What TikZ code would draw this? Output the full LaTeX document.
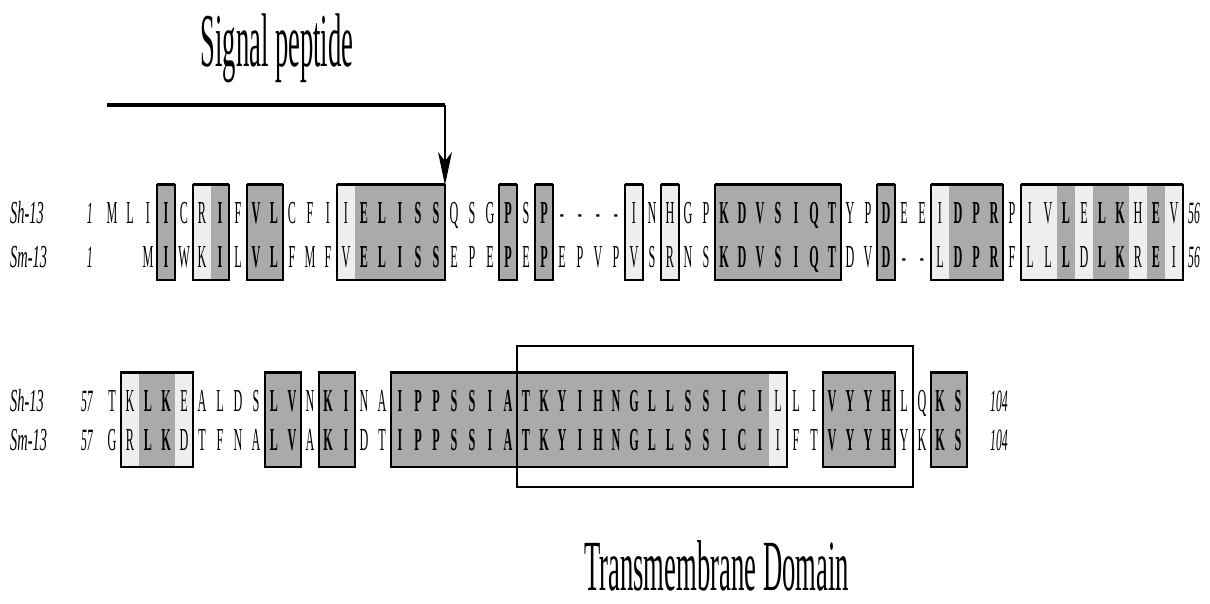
\documentclass[tikz,border=0pt]{standalone}
\usepackage{fontspec}
\setmainfont{Liberation Serif}
\newfontfamily\seqfont[FakeStretch=0.38]{Liberation Serif}
\newfontfamily\labfont[FakeStretch=0.45]{Liberation Serif}
\newfontfamily\titfont[FakeStretch=0.35]{Liberation Serif}
\newfontfamily\tmfont[FakeStretch=0.37]{Liberation Serif}
\usetikzlibrary{arrows.meta}
\definecolor{dk}{RGB}{170,170,170}
\definecolor{lt}{RGB}{238,238,238}
\tikzset{
  res-n/.style={anchor=base, inner sep=0pt, font=\seqfont\fontsize{32}{32}\selectfont},
  res-l/.style={res-n},
  res-d/.style={anchor=base, inner sep=0pt, font=\seqfont\bfseries\fontsize{32}{32}\selectfont},
  fill-n/.style={fill=none},
  fill-l/.style={fill=lt},
  fill-d/.style={fill=dk},
  lab/.style={anchor=base west, inner sep=0pt, font=\labfont\itshape\fontsize{32}{32}\selectfont},
  num/.style={inner sep=0pt, font=\seqfont\itshape\fontsize{31}{31}\selectfont},
  title/.style={anchor=base, inner sep=0pt, font=\titfont\fontsize{76}{76}\selectfont},
  tmtitle/.style={anchor=base west, inner sep=0pt, font=\tmfont\fontsize{72}{72}\selectfont},
  boxside/.style={draw=black, line width=1.2pt},
  boxedge/.style={draw=black, line width=3pt},
  tmbox/.style={draw=black, line width=2pt}
}
\begin{document}
\begin{tikzpicture}[x=1pt,y=-1pt]
\useasboundingbox (0,0) rectangle (1210,604);
% ---------- block 1 ----------
\def\tA{185}\def\bA{280}\def\yA{223}\def\zA{267}
\foreach \a/\b/\c [count=\k] in {M/{}/n,L/{}/n,I/M/n,I/I/d,C/W/n,R/K/l,I/I/d,F/L/n,V/V/d,L/L/d,
  C/F/n,F/M/n,I/F/n,I/V/l,E/E/d,L/L/d,I/I/d,S/S/d,S/S/d,Q/E/n,
  S/P/n,G/E/n,P/P/d,S/E/n,P/P/d,-/E/n,-/P/n,-/V/n,-/P/n,I/V/l,
  N/S/n,H/R/l,G/N/n,P/S/n,K/K/d,D/D/d,V/V/d,S/S/d,I/I/d,Q/Q/d,
  T/T/d,Y/D/n,P/V/n,D/D/d,E/-/n,E/-/n,I/L/l,D/D/d,P/P/d,R/R/d,
  P/F/n,I/L/l,V/L/l,L/L/d,E/D/l,L/L/d,K/K/d,H/R/l,E/E/d,V/I/l}{
  \fill[fill-\c] ({103+18*(\k-1)},\tA) rectangle ({121+18*(\k-1)},\bA);
}
\foreach \p/\q in {4/4,6/7,9/10,14/19,23/23,25/25,30/30,32/32,35/41,44/44,47/50,52/60}{
  \draw[boxside] ({103+18*(\p-1)},\tA) rectangle ({121+18*(\q-1)},\bA);
  \draw[boxedge] ({103+18*(\p-1)},\tA) -- ({121+18*(\q-1)},\tA);
  \draw[boxedge,line width=2.2pt] ({103+18*(\p-1)},\bA) -- ({121+18*(\q-1)},\bA);
}
\foreach \a/\b/\c [count=\k] in {M/{}/n,L/{}/n,I/M/n,I/I/d,C/W/n,R/K/l,I/I/d,F/L/n,V/V/d,L/L/d,
  C/F/n,F/M/n,I/F/n,I/V/l,E/E/d,L/L/d,I/I/d,S/S/d,S/S/d,Q/E/n,
  S/P/n,G/E/n,P/P/d,S/E/n,P/P/d,-/E/n,-/P/n,-/V/n,-/P/n,I/V/l,
  N/S/n,H/R/l,G/N/n,P/S/n,K/K/d,D/D/d,V/V/d,S/S/d,I/I/d,Q/Q/d,
  T/T/d,Y/D/n,P/V/n,D/D/d,E/-/n,E/-/n,I/L/l,D/D/d,P/P/d,R/R/d,
  P/F/n,I/L/l,V/L/l,L/L/d,E/D/l,L/L/d,K/K/d,H/R/l,E/E/d,V/I/l}{
  \node[res-\c] (sA\k) at ({112+18*(\k-1)},\yA) {\a};
  \node[res-\c] (mA\k) at ({112+18*(\k-1)},\zA) {\b};
}
\node[lab] (labSA) at (10,\yA) {Sh-13};
\node[lab] (labMA) at (10,\zA) {Sm-13};
\node[num,anchor=base east] (n1a) at (93,\yA) {1};
\node[num,anchor=base east] (n1b) at (93,\zA) {1};
\node[num,anchor=base west] (n56a) at (1188,\yA) {56};
\node[num,anchor=base west] (n56b) at (1188,\zA) {56};
% ---------- block 2 ----------
\def\tB{372}\def\bB{467}\def\yB{411}\def\zB{450}
\foreach \a/\b/\c [count=\k] in {T/G/n,K/R/l,L/L/d,K/K/d,E/D/l,A/T/n,L/F/n,D/N/n,S/A/n,L/L/d,
  V/V/d,N/A/n,K/K/d,I/I/d,N/D/n,A/T/n,I/I/d,P/P/d,P/P/d,S/S/d,
  S/S/d,I/I/d,A/A/d,T/T/d,K/K/d,Y/Y/d,I/I/d,H/H/d,N/N/d,G/G/d,
  L/L/d,L/L/d,S/S/d,S/S/d,I/I/d,C/C/d,I/I/d,L/I/l,L/F/n,I/T/n,
  V/V/d,Y/Y/d,Y/Y/d,H/H/d,L/Y/n,Q/K/n,K/K/d,S/S/d}{
  \fill[fill-\c] ({103+18*(\k-1)},\tB) rectangle ({121+18*(\k-1)},\bB);
}
\foreach \p/\q in {2/5,10/11,13/14,17/38,41/44,47/48}{
  \draw[boxside] ({103+18*(\p-1)},\tB) rectangle ({121+18*(\q-1)},\bB);
  \draw[boxedge] ({103+18*(\p-1)},\tB) -- ({121+18*(\q-1)},\tB);
  \draw[boxedge,line width=2.2pt] ({103+18*(\p-1)},\bB) -- ({121+18*(\q-1)},\bB);
}
\foreach \a/\b/\c [count=\k] in {T/G/n,K/R/l,L/L/d,K/K/d,E/D/l,A/T/n,L/F/n,D/N/n,S/A/n,L/L/d,
  V/V/d,N/A/n,K/K/d,I/I/d,N/D/n,A/T/n,I/I/d,P/P/d,P/P/d,S/S/d,
  S/S/d,I/I/d,A/A/d,T/T/d,K/K/d,Y/Y/d,I/I/d,H/H/d,N/N/d,G/G/d,
  L/L/d,L/L/d,S/S/d,S/S/d,I/I/d,C/C/d,I/I/d,L/I/l,L/F/n,I/T/n,
  V/V/d,Y/Y/d,Y/Y/d,H/H/d,L/Y/n,Q/K/n,K/K/d,S/S/d}{
  \node[res-\c] (sB\k) at ({112+18*(\k-1)},\yB) {\a};
  \node[res-\c] (mB\k) at ({112+18*(\k-1)},\zB) {\b};
}
\node[lab] (labSB) at (10,\yB) {Sh-13};
\node[lab] (labMB) at (10,\zB) {Sm-13};
\node[num,anchor=base east] (n57a) at (93,\yB) {57};
\node[num,anchor=base east] (n57b) at (93,\zB) {57};
\node[num,anchor=base west] (n104a) at (990,\yB) {104};
\node[num,anchor=base west] (n104b) at (990,\zB) {104};
% transmembrane box
\draw[tmbox] (517,346) rectangle (913,487);
% ---------- titles and arrow ----------
\node[title] (sigpep) at (277,67) {Signal peptide};
\node[tmtitle] (tmdom) at (584,590) {Transmembrane Domain};
\coordinate (spStart) at (107,105);
\coordinate (spCorner) at (445,105);
\coordinate (spTip) at (445,185);
\draw[line width=4pt] (spStart) -- (spCorner);
\draw[line width=1.2pt,-{Stealth[length=33pt,width=14pt,inset=9pt]}] (spCorner) -- (spTip);
\end{tikzpicture}
\end{document}
